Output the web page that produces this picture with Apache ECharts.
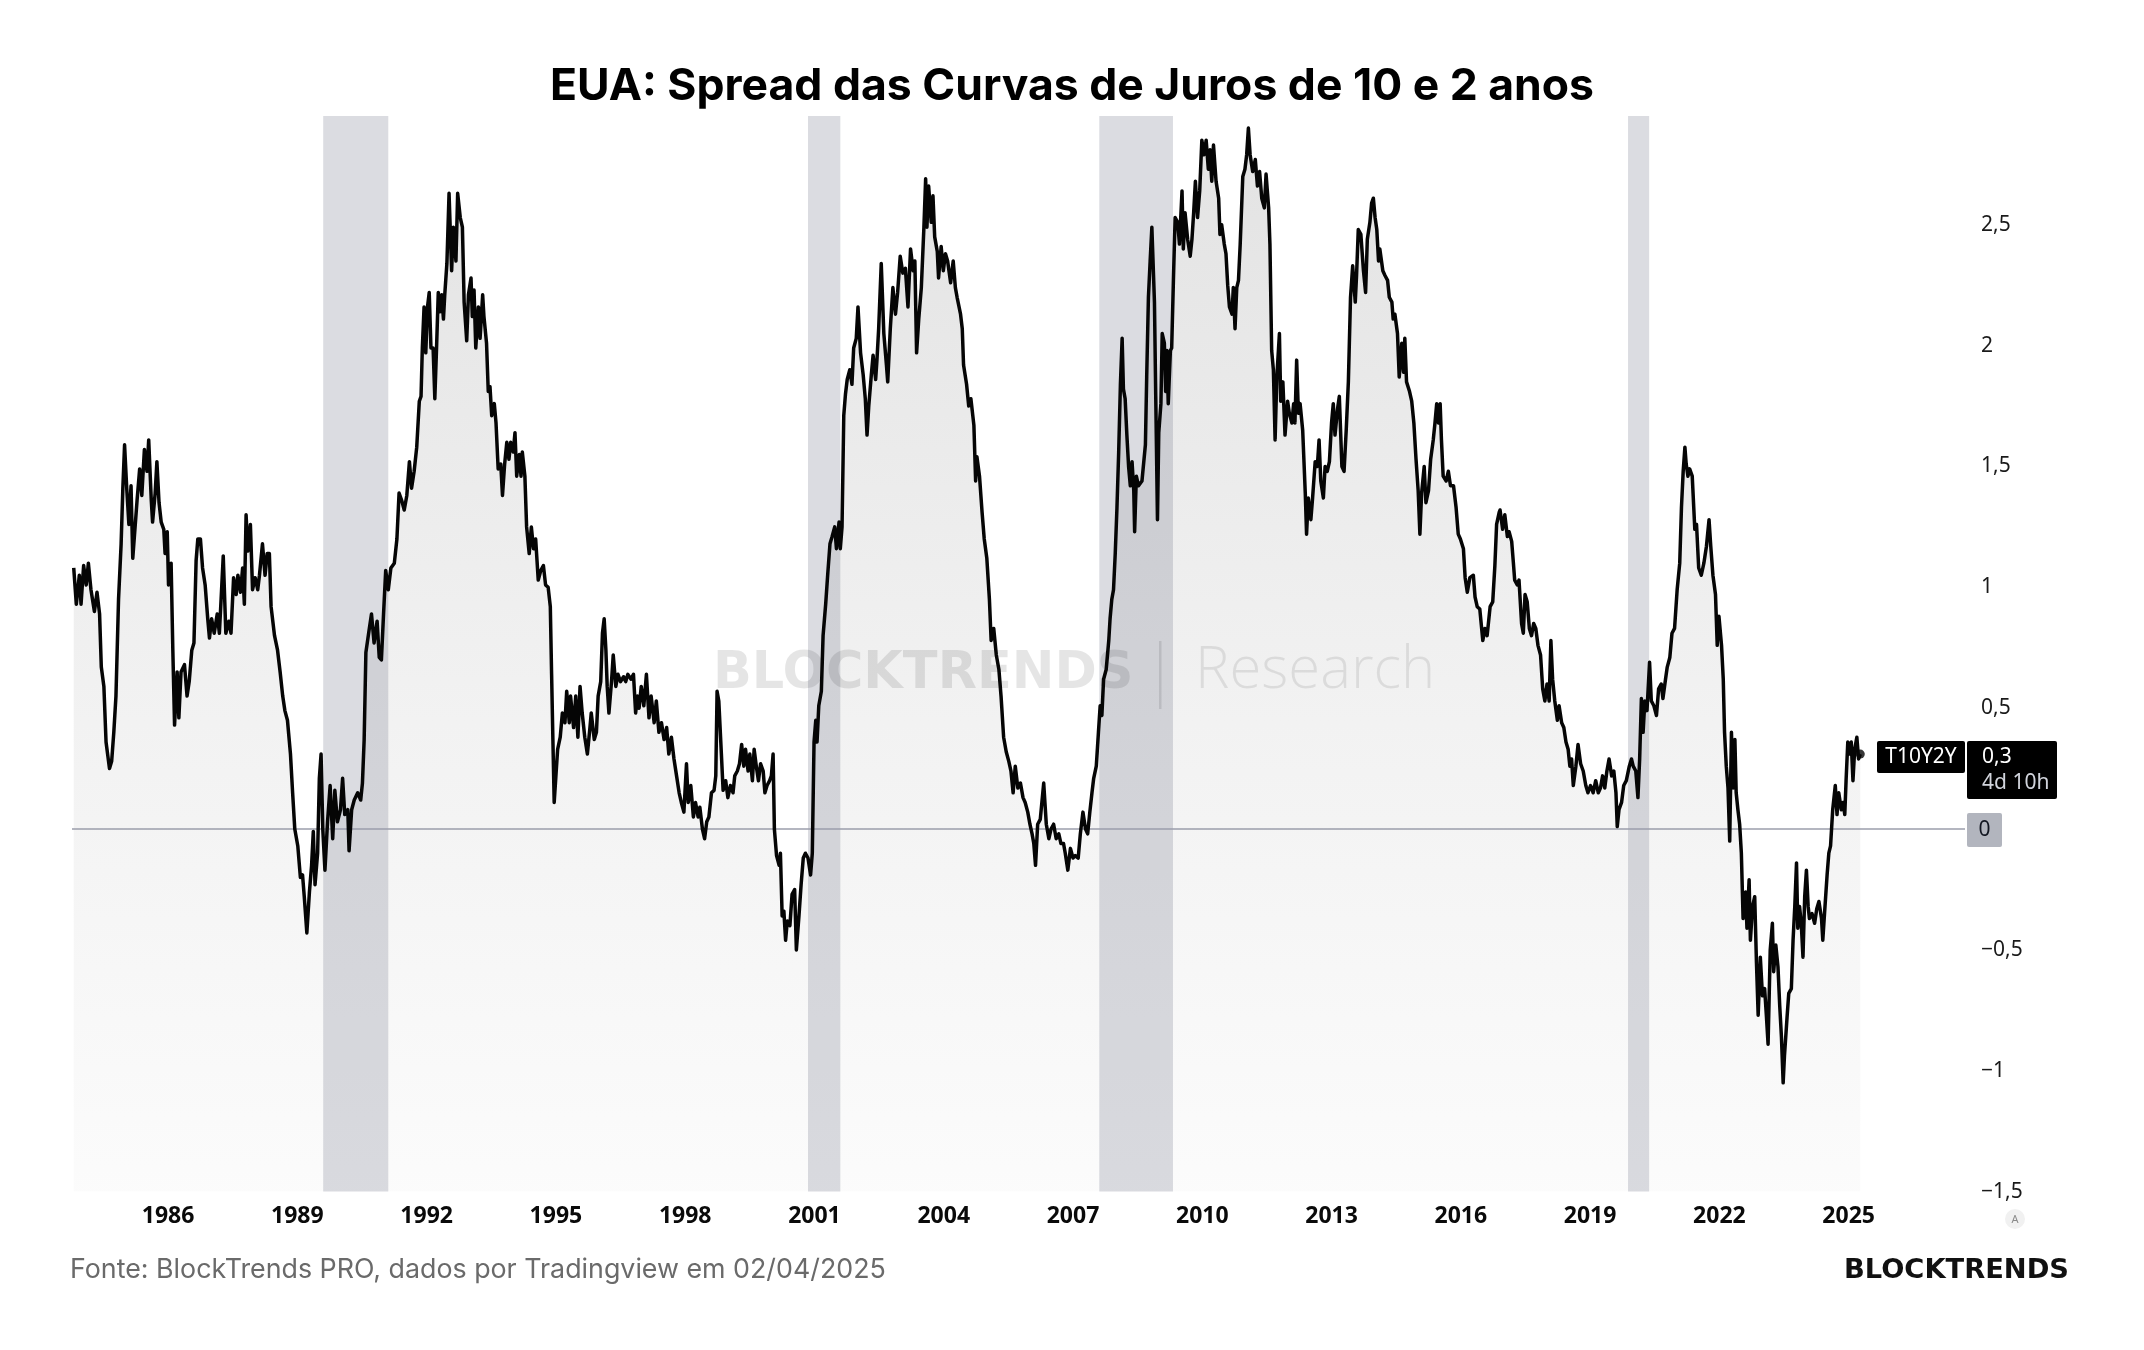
<!DOCTYPE html>
<html><head><meta charset="utf-8">
<script src="https://cdn.jsdelivr.net/npm/echarts@6/dist/echarts.min.js"></script>
<style>html,body{margin:0;padding:0;background:#fff}#c{width:2144px;height:1350px}</style>
</head><body><div id="c"></div>
<script>
const chartTitle = 'EUA: Spread das Curvas de Juros de 10 e 2 anos';
const sourceText = 'Fonte: BlockTrends PRO, dados por Tradingview em 02/04/2025';
const brandText = 'BLOCKTRENDS';
const tickerName = 'T10Y2Y';
const lastLabelValue = 0.3;
const countdownText = '4d 10h';
const yearTicks = [1986,1989,1992,1995,1998,2001,2004,2007,2010,2013,2016,2019,2022,2025];
const valueTicks = [-1.5,-1,-0.5,0.5,1,1.5,2,2.5];
const xRange = [1983.77, 2027.70];
const yRange = [-1.5, 2.95];
// recession bands [start, end] in decimal years
const recessions = [[1989.60,1991.11],[2000.85,2001.60],[2007.61,2009.32],[2019.88,2020.37]];

// spread (10y - 2y, %): [decimal year, value]
const spread1984_1991 = [[1983.81,1.08],[1983.87,0.93],[1983.94,1.05],[1983.98,0.93],[1984.04,1.09],[1984.10,1.01],[1984.15,1.10],[1984.21,0.99],[1984.29,0.90],[1984.35,0.98],[1984.41,0.89],[1984.45,0.67],[1984.51,0.59],[1984.56,0.36],[1984.64,0.25],[1984.69,0.28],[1984.74,0.40],[1984.79,0.55],[1984.85,0.95],[1984.91,1.18],[1984.95,1.41],[1984.99,1.59],[1985.04,1.41],[1985.09,1.26],[1985.14,1.42],[1985.18,1.12],[1985.28,1.36],[1985.34,1.49],[1985.39,1.38],[1985.45,1.57],[1985.51,1.48],[1985.55,1.61],[1985.61,1.36],[1985.64,1.27],[1985.70,1.39],[1985.74,1.52],[1985.79,1.35],[1985.84,1.27],[1985.90,1.24],[1985.93,1.14],[1985.98,1.23],[1986.01,1.01],[1986.07,1.10],[1986.11,0.74],[1986.15,0.43],[1986.21,0.65],[1986.25,0.46],[1986.30,0.65],[1986.38,0.68],[1986.44,0.55],[1986.49,0.61],[1986.55,0.74],[1986.60,0.77],[1986.65,1.11],[1986.69,1.20],[1986.75,1.20],[1986.80,1.08],[1986.86,1.01],[1986.92,0.87],[1986.96,0.79],[1987.01,0.87],[1987.07,0.81],[1987.14,0.89],[1987.19,0.81],[1987.23,0.95],[1987.28,1.13],[1987.34,0.81],[1987.41,0.86],[1987.46,0.81],[1987.52,1.04],[1987.58,0.97],[1987.62,1.05],[1987.68,0.98],[1987.73,1.08],[1987.77,0.93],[1987.81,1.30],[1987.85,1.15],[1987.91,1.26],[1987.96,0.99],[1988.02,1.04],[1988.08,0.99],[1988.12,1.05],[1988.19,1.18],[1988.25,1.05],[1988.30,1.14],[1988.35,1.14],[1988.39,0.92],[1988.47,0.80],[1988.54,0.74],[1988.60,0.65],[1988.66,0.55],[1988.71,0.49],[1988.77,0.45],[1988.84,0.31],[1988.89,0.15],[1988.94,0.00],[1989.01,-0.07],[1989.07,-0.20],[1989.12,-0.19],[1989.16,-0.28],[1989.22,-0.43],[1989.28,-0.26],[1989.33,-0.15],[1989.37,-0.01],[1989.41,-0.23],[1989.47,-0.10],[1989.51,0.21],[1989.55,0.31],[1989.59,0.00],[1989.64,-0.17],[1989.70,0.03],[1989.76,0.18],[1989.82,-0.04],[1989.87,0.16],[1989.93,0.03],[1990.00,0.08],[1990.05,0.21],[1990.10,0.06],[1990.17,0.08],[1990.20,-0.09],[1990.26,0.08],[1990.32,0.12],[1990.40,0.15],[1990.47,0.12],[1990.51,0.19],[1990.55,0.37],[1990.59,0.73],[1990.67,0.83],[1990.72,0.89],[1990.78,0.77],[1990.85,0.86],[1990.90,0.71],[1990.95,0.70],[1991.00,0.89],[1991.05,1.07],[1991.11,0.99],[1991.17,1.08],[1991.25,1.10],[1991.31,1.20],[1991.36,1.39],[1991.42,1.36],[1991.48,1.32],[1991.54,1.38],[1991.60,1.52],[1991.65,1.41],[1991.71,1.48],[1991.77,1.58],[1991.83,1.77]];

const spread1992_2000 = [[1991.87,1.79],[1991.90,1.99],[1991.94,2.16],[1991.98,1.97],[1992.02,2.16],[1992.06,2.22],[1992.10,1.99],[1992.15,1.99],[1992.19,1.78],[1992.23,1.99],[1992.27,2.22],[1992.31,2.14],[1992.35,2.21],[1992.39,2.11],[1992.42,2.21],[1992.47,2.34],[1992.52,2.63],[1992.58,2.31],[1992.62,2.49],[1992.68,2.35],[1992.72,2.63],[1992.78,2.53],[1992.83,2.49],[1992.87,2.18],[1992.93,2.02],[1992.97,2.21],[1993.03,2.28],[1993.06,2.12],[1993.10,2.23],[1993.14,1.99],[1993.20,2.16],[1993.24,2.03],[1993.30,2.21],[1993.33,2.12],[1993.39,2.01],[1993.43,1.81],[1993.47,1.83],[1993.51,1.71],[1993.57,1.76],[1993.61,1.68],[1993.66,1.49],[1993.72,1.51],[1993.76,1.38],[1993.81,1.51],[1993.86,1.60],[1993.91,1.53],[1993.95,1.60],[1994.01,1.56],[1994.05,1.64],[1994.09,1.46],[1994.15,1.55],[1994.19,1.46],[1994.22,1.56],[1994.28,1.46],[1994.32,1.25],[1994.38,1.14],[1994.43,1.25],[1994.48,1.16],[1994.53,1.20],[1994.59,1.03],[1994.65,1.07],[1994.71,1.09],[1994.76,1.01],[1994.82,1.00],[1994.87,0.92],[1994.90,0.64],[1994.93,0.37],[1994.96,0.11],[1995.00,0.22],[1995.04,0.33],[1995.10,0.38],[1995.15,0.48],[1995.21,0.44],[1995.25,0.57],[1995.31,0.44],[1995.34,0.55],[1995.41,0.42],[1995.46,0.55],[1995.51,0.38],[1995.56,0.59],[1995.61,0.48],[1995.67,0.38],[1995.73,0.31],[1995.79,0.42],[1995.82,0.48],[1995.89,0.37],[1995.94,0.40],[1995.98,0.55],[1996.04,0.61],[1996.08,0.81],[1996.12,0.87],[1996.16,0.74],[1996.19,0.59],[1996.23,0.48],[1996.29,0.61],[1996.33,0.72],[1996.39,0.59],[1996.44,0.64],[1996.50,0.61],[1996.57,0.63],[1996.62,0.61],[1996.67,0.64],[1996.74,0.62],[1996.80,0.64],[1996.85,0.48],[1996.89,0.55],[1996.93,0.50],[1996.98,0.59],[1997.04,0.51],[1997.10,0.64],[1997.16,0.46],[1997.21,0.55],[1997.28,0.44],[1997.33,0.53],[1997.39,0.40],[1997.45,0.44],[1997.51,0.37],[1997.57,0.42],[1997.62,0.31],[1997.68,0.38],[1997.74,0.29],[1997.80,0.22],[1997.86,0.15],[1997.91,0.11],[1997.97,0.07],[1998.03,0.27],[1998.07,0.11],[1998.13,0.18],[1998.19,0.05],[1998.24,0.11],[1998.30,0.05],[1998.34,0.09],[1998.40,0.00],[1998.45,-0.04],[1998.50,0.03],[1998.55,0.05],[1998.61,0.15],[1998.67,0.16],[1998.71,0.22],[1998.74,0.57],[1998.78,0.53],[1998.84,0.31],[1998.88,0.16],[1998.94,0.20],[1998.99,0.13],[1999.05,0.18],[1999.11,0.15],[1999.15,0.22],[1999.21,0.24],[1999.26,0.27],[1999.31,0.35],[1999.36,0.26],[1999.40,0.33],[1999.46,0.24],[1999.50,0.31],[1999.56,0.20],[1999.60,0.33],[1999.65,0.26],[1999.70,0.20],[1999.75,0.27],[1999.81,0.24],[1999.85,0.15],[1999.90,0.18],[1999.96,0.20],[2000.00,0.22],[2000.04,0.31],[2000.07,0.00],[2000.12,-0.11],[2000.18,-0.15]];

const spread2000_2008 = [[2000.21,-0.10],[2000.25,-0.36],[2000.29,-0.34],[2000.33,-0.46],[2000.37,-0.38],[2000.43,-0.40],[2000.48,-0.27],[2000.54,-0.25],[2000.58,-0.50],[2000.64,-0.36],[2000.69,-0.23],[2000.74,-0.12],[2000.79,-0.10],[2000.85,-0.12],[2000.91,-0.19],[2000.95,-0.10],[2000.99,0.36],[2001.03,0.45],[2001.06,0.36],[2001.10,0.51],[2001.16,0.57],[2001.20,0.80],[2001.26,0.93],[2001.31,1.06],[2001.36,1.18],[2001.41,1.21],[2001.47,1.25],[2001.51,1.16],[2001.57,1.27],[2001.60,1.16],[2001.64,1.25],[2001.68,1.71],[2001.72,1.80],[2001.76,1.86],[2001.82,1.90],[2001.87,1.84],[2001.91,1.99],[2001.97,2.03],[2002.01,2.16],[2002.07,1.97],[2002.13,1.88],[2002.18,1.78],[2002.22,1.63],[2002.26,1.75],[2002.32,1.88],[2002.36,1.96],[2002.42,1.86],[2002.45,1.94],[2002.49,2.07],[2002.55,2.34],[2002.61,2.05],[2002.67,1.92],[2002.70,1.85],[2002.76,2.07],[2002.82,2.24],[2002.88,2.13],[2002.93,2.22],[2002.99,2.37],[2003.05,2.30],[2003.11,2.32],[2003.17,2.16],[2003.23,2.40],[2003.29,2.31],[2003.33,2.35],[2003.37,1.97],[2003.42,2.11],[2003.48,2.24],[2003.54,2.49],[2003.58,2.69],[2003.61,2.49],[2003.65,2.66],[2003.71,2.51],[2003.75,2.62],[2003.79,2.45],[2003.85,2.39],[2003.88,2.28],[2003.94,2.41],[2003.99,2.31],[2004.04,2.38],[2004.09,2.35],[2004.16,2.26],[2004.22,2.35],[2004.27,2.24],[2004.31,2.20],[2004.39,2.13],[2004.43,2.07],[2004.46,1.92],[2004.53,1.84],[2004.58,1.75],[2004.63,1.78],[2004.70,1.67],[2004.74,1.44],[2004.77,1.54],[2004.83,1.46],[2004.89,1.31],[2004.94,1.20],[2005.00,1.12],[2005.06,0.95],[2005.10,0.78],[2005.16,0.83],[2005.22,0.72],[2005.28,0.66],[2005.33,0.55],[2005.39,0.38],[2005.45,0.32],[2005.51,0.28],[2005.56,0.24],[2005.61,0.15],[2005.66,0.26],[2005.72,0.17],[2005.78,0.19],[2005.84,0.13],[2005.89,0.11],[2005.95,0.07],[2006.00,0.02],[2006.05,-0.02],[2006.09,-0.06],[2006.13,-0.15],[2006.18,0.02],[2006.24,0.04],[2006.32,0.19],[2006.38,0.02],[2006.44,-0.04],[2006.49,0.00],[2006.55,0.02],[2006.61,-0.04],[2006.67,-0.02],[2006.72,-0.06],[2006.78,-0.06],[2006.82,-0.10],[2006.88,-0.17],[2006.94,-0.08],[2007.00,-0.12],[2007.05,-0.11],[2007.12,-0.12],[2007.17,-0.02],[2007.23,0.07],[2007.29,0.00],[2007.34,-0.02],[2007.39,0.07],[2007.44,0.15],[2007.48,0.21],[2007.54,0.26],[2007.59,0.40],[2007.63,0.51],[2007.67,0.47],[2007.71,0.62],[2007.77,0.66],[2007.83,0.78],[2007.86,0.87],[2007.90,0.95],[2007.94,0.99],[2007.98,1.14],[2008.02,1.33],[2008.06,1.56],[2008.10,1.84],[2008.14,2.03],[2008.17,1.82],[2008.21,1.78],[2008.25,1.63],[2008.29,1.50],[2008.33,1.42],[2008.37,1.52],[2008.41,1.40],[2008.43,1.23],[2008.47,1.46],[2008.52,1.42],[2008.60,1.44]];

const spread2008_2016 = [[2008.64,1.44],[2008.68,1.59],[2008.71,1.87],[2008.75,2.20],[2008.79,2.35],[2008.83,2.49],[2008.87,2.49],[2008.89,2.18],[2008.92,1.79],[2008.96,1.28],[2008.99,1.64],[2009.04,1.76],[2009.07,2.05],[2009.12,2.01],[2009.15,1.81],[2009.18,1.98],[2009.21,1.76],[2009.26,1.98],[2009.29,1.99],[2009.33,2.27],[2009.37,2.53],[2009.43,2.51],[2009.47,2.42],[2009.53,2.64],[2009.56,2.40],[2009.60,2.55],[2009.66,2.44],[2009.72,2.37],[2009.76,2.44],[2009.80,2.55],[2009.84,2.68],[2009.89,2.53],[2009.94,2.64],[2009.99,2.85],[2010.04,2.79],[2010.09,2.85],[2010.14,2.73],[2010.18,2.81],[2010.22,2.68],[2010.26,2.83],[2010.32,2.68],[2010.38,2.61],[2010.41,2.46],[2010.45,2.50],[2010.51,2.42],[2010.55,2.38],[2010.59,2.25],[2010.63,2.16],[2010.69,2.13],[2010.72,2.24],[2010.76,2.07],[2010.80,2.24],[2010.84,2.27],[2010.88,2.42],[2010.94,2.70],[2010.99,2.73],[2011.03,2.79],[2011.07,2.90],[2011.11,2.79],[2011.17,2.72],[2011.23,2.77],[2011.28,2.66],[2011.33,2.72],[2011.38,2.61],[2011.44,2.57],[2011.48,2.71],[2011.54,2.57],[2011.57,2.42],[2011.61,1.98],[2011.65,1.90],[2011.69,1.61],[2011.73,1.87],[2011.79,2.05],[2011.82,1.77],[2011.87,1.85],[2011.92,1.63],[2011.98,1.77],[2012.02,1.72],[2012.08,1.68],[2012.12,1.76],[2012.15,1.68],[2012.19,1.94],[2012.23,1.72],[2012.27,1.76],[2012.33,1.65],[2012.39,1.39],[2012.42,1.22],[2012.46,1.37],[2012.52,1.28],[2012.56,1.37],[2012.62,1.52],[2012.67,1.50],[2012.71,1.61],[2012.75,1.44],[2012.81,1.37],[2012.85,1.50],[2012.90,1.48],[2012.95,1.52],[2013.00,1.68],[2013.04,1.76],[2013.08,1.63],[2013.14,1.74],[2013.18,1.79],[2013.24,1.50],[2013.29,1.48],[2013.34,1.65],[2013.39,1.85],[2013.44,2.20],[2013.49,2.33],[2013.55,2.18],[2013.58,2.29],[2013.62,2.48],[2013.68,2.46],[2013.74,2.31],[2013.79,2.22],[2013.83,2.44],[2013.89,2.51],[2013.93,2.59],[2013.97,2.61],[2014.01,2.53],[2014.05,2.48],[2014.09,2.35],[2014.12,2.40],[2014.19,2.31],[2014.24,2.29],[2014.30,2.27],[2014.34,2.20],[2014.40,2.18],[2014.43,2.11],[2014.47,2.13],[2014.53,2.05],[2014.57,1.87],[2014.63,2.01],[2014.67,1.89],[2014.70,2.03],[2014.74,1.85],[2014.81,1.81],[2014.86,1.77],[2014.91,1.68],[2014.96,1.53],[2015.01,1.40],[2015.05,1.22],[2015.09,1.39],[2015.15,1.50],[2015.19,1.35],[2015.25,1.40],[2015.30,1.53],[2015.36,1.61],[2015.40,1.68],[2015.44,1.76],[2015.48,1.68],[2015.52,1.76],[2015.55,1.61],[2015.59,1.46],[2015.66,1.44],[2015.71,1.48],[2015.76,1.42],[2015.83,1.42],[2015.89,1.33],[2015.94,1.22],[2015.99,1.20],[2016.06,1.16],[2016.10,1.04],[2016.15,0.98],[2016.21,1.04],[2016.29,1.05],[2016.33,0.96],[2016.38,0.92],[2016.44,0.91],[2016.51,0.78],[2016.56,0.83],[2016.61,0.80],[2016.68,0.92],[2016.74,0.94],[2016.79,1.09],[2016.83,1.26],[2016.89,1.31]];

const spread2017_2025 = [[2016.91,1.32],[2016.97,1.24],[2017.02,1.30],[2017.08,1.21],[2017.12,1.23],[2017.18,1.19],[2017.22,1.10],[2017.25,1.03],[2017.31,1.01],[2017.35,1.03],[2017.41,0.85],[2017.45,0.81],[2017.49,0.97],[2017.54,0.94],[2017.59,0.83],[2017.64,0.80],[2017.69,0.85],[2017.74,0.83],[2017.79,0.76],[2017.85,0.72],[2017.90,0.58],[2017.95,0.53],[2018.00,0.60],[2018.05,0.53],[2018.09,0.78],[2018.13,0.62],[2018.18,0.53],[2018.24,0.45],[2018.28,0.51],[2018.34,0.44],[2018.39,0.42],[2018.44,0.36],[2018.49,0.33],[2018.53,0.26],[2018.57,0.29],[2018.61,0.18],[2018.67,0.26],[2018.72,0.35],[2018.78,0.27],[2018.84,0.24],[2018.90,0.18],[2018.95,0.15],[2019.01,0.18],[2019.07,0.15],[2019.13,0.20],[2019.19,0.15],[2019.24,0.17],[2019.29,0.22],[2019.34,0.17],[2019.39,0.24],[2019.44,0.29],[2019.50,0.22],[2019.55,0.24],[2019.60,0.15],[2019.63,0.01],[2019.67,0.08],[2019.73,0.11],[2019.78,0.18],[2019.84,0.20],[2019.91,0.26],[2019.96,0.29],[2020.00,0.26],[2020.06,0.24],[2020.11,0.13],[2020.15,0.29],[2020.19,0.54],[2020.23,0.40],[2020.27,0.53],[2020.32,0.49],[2020.38,0.69],[2020.42,0.53],[2020.48,0.51],[2020.54,0.47],[2020.59,0.58],[2020.65,0.60],[2020.69,0.54],[2020.75,0.62],[2020.79,0.67],[2020.85,0.71],[2020.90,0.81],[2020.96,0.83],[2021.02,0.99],[2021.08,1.10],[2021.12,1.33],[2021.16,1.48],[2021.20,1.58],[2021.23,1.51],[2021.27,1.46],[2021.31,1.49],[2021.37,1.46],[2021.43,1.24],[2021.47,1.26],[2021.52,1.08],[2021.58,1.05],[2021.64,1.10],[2021.70,1.17],[2021.76,1.28],[2021.80,1.17],[2021.85,1.05],[2021.91,0.97],[2021.95,0.76],[2021.99,0.88],[2022.05,0.76],[2022.09,0.62],[2022.12,0.40],[2022.16,0.26],[2022.20,0.17],[2022.24,-0.05],[2022.28,0.40],[2022.32,0.17],[2022.36,0.37],[2022.39,0.15],[2022.43,0.08],[2022.47,0.02],[2022.51,-0.10],[2022.55,-0.37],[2022.61,-0.26],[2022.64,-0.41],[2022.69,-0.21],[2022.72,-0.46],[2022.77,-0.32],[2022.82,-0.28],[2022.86,-0.55],[2022.90,-0.77],[2022.95,-0.53],[2023.00,-0.69],[2023.05,-0.66],[2023.09,-0.77],[2023.13,-0.89],[2023.18,-0.50],[2023.23,-0.39],[2023.26,-0.59],[2023.31,-0.48],[2023.36,-0.57],[2023.40,-0.73],[2023.44,-0.86],[2023.48,-1.05],[2023.51,-0.94],[2023.57,-0.78],[2023.61,-0.68],[2023.67,-0.66],[2023.71,-0.46],[2023.75,-0.32],[2023.79,-0.14],[2023.82,-0.41],[2023.86,-0.32],[2023.90,-0.39],[2023.94,-0.53],[2023.98,-0.28],[2024.02,-0.17],[2024.06,-0.32],[2024.09,-0.37],[2024.15,-0.35],[2024.21,-0.39],[2024.26,-0.33],[2024.31,-0.30],[2024.37,-0.37],[2024.40,-0.46],[2024.44,-0.35],[2024.50,-0.19],[2024.54,-0.10],[2024.58,-0.07],[2024.63,0.08],[2024.69,0.18],[2024.73,0.06],[2024.77,0.15],[2024.83,0.08],[2024.87,0.11],[2024.91,0.06],[2024.94,0.20],[2024.98,0.36],[2025.02,0.31],[2025.06,0.36],[2025.10,0.20],[2025.14,0.33],[2025.19,0.38],[2025.23,0.29],[2025.27,0.31]];

const spreadData = [].concat(spread1984_1991, spread1992_2000, spread2000_2008, spread2008_2016, spread2017_2025);
const lastPoint = spreadData[spreadData.length - 1];

const fmtNum = v => (v < 0 ? '\u2212' : '') + String(Math.abs(v)).replace('.', ',');

const chart = echarts.init(document.getElementById('c'), null, {renderer: 'canvas'});
chart.setOption({
  animation: false,
  backgroundColor: '#ffffff',
  grid: {left: 72, right: 179, top: 116, bottom: 158.4, containLabel: false},
  xAxis: {
    type: 'value', min: xRange[0], max: xRange[1],
    axisLine: {show: false}, axisTick: {show: false}, splitLine: {show: false},
    axisLabel: {
      customValues: yearTicks, margin: 13,
      formatter: v => String(Math.round(v)),
      fontFamily: 'Open Sans', fontWeight: 700, fontSize: 23, color: '#0a0a0a'
    }
  },
  yAxis: {
    type: 'value', position: 'right', min: yRange[0], max: yRange[1],
    axisLine: {show: false}, axisTick: {show: false}, splitLine: {show: false},
    axisLabel: {
      customValues: valueTicks, margin: 16, formatter: fmtNum,
      fontFamily: 'Noto Sans', fontSize: 21, color: '#1a1a1a'
    }
  },
  series: [
    {
      name: 'area', type: 'line', z: 1, data: spreadData, showSymbol: false, silent: true,
      lineStyle: {width: 0, opacity: 0},
      areaStyle: {
        origin: 'start',
        color: {type: 'linear', x: 0, y: 116, x2: 0, y2: 1192, global: true,
          colorStops: [{offset: 0, color: '#d6d6d6'}, {offset: 0.55, color: '#ececec'}, {offset: 1, color: '#fafafa'}]}
      }
    },
    {
      name: 'recessions', type: 'custom', z: 2, silent: true,
      data: recessions, encode: {x: [0, 1]},
      renderItem: (params, api) => {
        const s = api.coord([api.value(0), 0]);
        const e = api.coord([api.value(1), 0]);
        const cs = params.coordSys;
        return {type: 'rect', shape: {x: s[0], y: cs.y, width: e[0] - s[0], height: cs.height},
          style: {fill: 'rgba(110,115,135,0.25)'}};
      }
    },
    {
      name: tickerName, type: 'line', z: 4, data: spreadData, showSymbol: false, silent: true,
      lineStyle: {width: 3.5, color: '#050505', join: 'round'},
      markLine: {
        silent: true, symbol: 'none', z: 3,
        lineStyle: {color: '#9b9eab', width: 1.6, type: 'solid'},
        label: {show: false},
        data: [{yAxis: 0}]
      }
    },
    {
      name: 'last', type: 'scatter', z: 5, data: [lastPoint], symbol: 'circle', symbolSize: 9,
      itemStyle: {color: '#050505'}, silent: true
    }
  ]
});

const pZero = chart.convertToPixel({gridIndex: 0}, [xRange[1], 0]);
const pLast = chart.convertToPixel({gridIndex: 0}, [xRange[1], lastLabelValue]);
const T = (o) => Object.assign({type: 'text'}, o);
chart.setOption({
  graphic: {elements: [
    T({x: 1072, y: 87, style: {text: chartTitle, font: '700 44.5px Inter', fill: '#000', align: 'center', textAlign: 'center', verticalAlign: 'middle', textVerticalAlign: 'middle'}}),
    T({x: 713, y: 675, z: 3, style: {text: brandText, font: '700 51px "DejaVu Sans"', fill: 'rgba(0,0,0,0.10)', align: 'left', textAlign: 'left', verticalAlign: 'middle', textVerticalAlign: 'middle'}}),
    {type: 'rect', z: 3, shape: {x: 1159, y: 641, width: 2.5, height: 68}, style: {fill: 'rgba(0,0,0,0.10)'}},
    T({x: 1195, y: 671, z: 3, style: {text: 'Research', font: '300 58px "Open Sans"', fill: 'rgba(0,0,0,0.09)', align: 'left', textAlign: 'left', verticalAlign: 'middle', textVerticalAlign: 'middle'}}),
    T({x: 70, y: 1270, style: {text: sourceText, font: '400 26.8px Inter', fill: '#6a6a6a', align: 'left', textAlign: 'left', verticalAlign: 'middle', textVerticalAlign: 'middle'}}),
    T({x: 2069, y: 1271, style: {text: brandText, font: '700 27.3px "DejaVu Sans"', fill: '#111', align: 'right', textAlign: 'right', verticalAlign: 'middle', textVerticalAlign: 'middle'}}),
    // zero label box
    {type: 'rect', z: 10, shape: {x: pZero[0] + 2, y: pZero[1] - 16, width: 35, height: 34, r: 2}, style: {fill: '#b2b5be'}},
    T({z: 11, x: pZero[0] + 19.5, y: pZero[1] + 1, style: {text: '0', font: '21px "Noto Sans"', fill: '#131722', align: 'center', textAlign: 'center', verticalAlign: 'middle', textVerticalAlign: 'middle'}}),
    // ticker box
    {type: 'rect', z: 10, shape: {x: pLast[0] - 88, y: pLast[1] - 15.5, width: 88, height: 32, r: 2}, style: {fill: '#000'}},
    T({z: 11, x: pLast[0] - 44, y: pLast[1] + 0.5, style: {text: tickerName, font: '21px "Noto Sans"', fill: '#fff', align: 'center', textAlign: 'center', verticalAlign: 'middle', textVerticalAlign: 'middle'}}),
    // value box
    {type: 'rect', z: 10, shape: {x: pLast[0] + 2, y: pLast[1] - 15.5, width: 90, height: 58, r: 2}, style: {fill: '#000'}},
    T({z: 11, x: pLast[0] + 17, y: pLast[1] + 0.5, style: {text: fmtNum(lastLabelValue), font: '21px "Noto Sans"', fill: '#fff', align: 'left', textAlign: 'left', verticalAlign: 'middle', textVerticalAlign: 'middle'}}),
    T({z: 11, x: pLast[0] + 17, y: pLast[1] + 26.5, style: {text: countdownText, font: '21px "Noto Sans"', fill: '#d1d4dc', align: 'left', textAlign: 'left', verticalAlign: 'middle', textVerticalAlign: 'middle'}}),
    // auto-scale badge
    {type: 'circle', z: 10, shape: {cx: 2015, cy: 1219, r: 10}, style: {fill: '#f1f1f1'}},
    T({z: 11, x: 2015, y: 1219.5, style: {text: 'A', font: '11px "Noto Sans"', fill: '#8a8a8a', align: 'center', textAlign: 'center', verticalAlign: 'middle', textVerticalAlign: 'middle'}})
  ]}
});
</script>
</body></html>
